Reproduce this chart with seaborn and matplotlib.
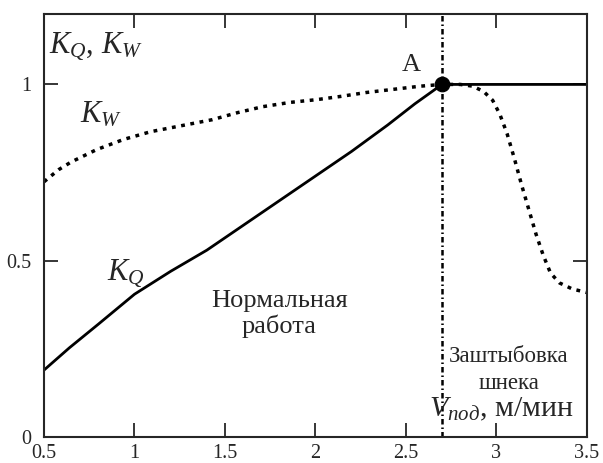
import matplotlib
matplotlib.use('Agg')
import matplotlib.pyplot as plt
import seaborn as sns
import pandas as pd

# K_Q: near-linear growth up to point A, then flat
kq_x = [0.5, 0.64, 0.8, 1.0, 1.2, 1.4, 1.6, 1.8, 2.0, 2.2, 2.4, 2.55, 2.70, 3.0, 3.5]
kq_y = [0.19, 0.253, 0.32, 0.405, 0.47, 0.53, 0.60, 0.67, 0.74, 0.81, 0.885, 0.945, 1.0, 1.0, 1.0]

# K_W: slow rise, then drop after auger plugging
kw_x = [0.5, 0.58, 0.65, 0.79, 0.94, 1.09, 1.23, 1.43, 1.57, 1.71, 1.86, 2.01, 2.14, 2.28,
        2.43, 2.58, 2.70, 2.80, 2.87, 2.93, 2.98, 3.02, 3.06, 3.10, 3.14, 3.18, 3.22, 3.26,
        3.30, 3.35, 3.42, 3.50]
kw_y = [0.724, 0.758, 0.78, 0.815, 0.844, 0.866, 0.88, 0.90, 0.92, 0.937, 0.949, 0.957,
        0.966, 0.977, 0.986, 0.995, 1.0, 1.0, 0.995, 0.98, 0.955, 0.915, 0.86, 0.79, 0.715,
        0.645, 0.575, 0.515, 0.465, 0.437, 0.42, 0.41]

point_a = (2.7, 1.0)
x_ticks = [0.5, 1, 1.5, 2, 2.5, 3, 3.5]
x_labels = ['0.5', '1', '1.5', '2', '2.5', '3', '3.5']
y_ticks = [0, 0.5, 1]
y_labels = ['0', '0.5', '1']

sns.set_style("ticks")
plt.rcParams['font.family'] = ['Liberation Serif', 'DejaVu Serif']
plt.rcParams['mathtext.fontset'] = 'custom'
plt.rcParams['mathtext.rm'] = 'Liberation Serif'
plt.rcParams['mathtext.it'] = 'Liberation Serif:italic'

fig = plt.figure(figsize=(6.03, 4.63), dpi=100)
ax = fig.add_axes([0.073, 0.056, 0.900, 0.914])

df_q = pd.DataFrame({'x': kq_x, 'y': kq_y})
df_w = pd.DataFrame({'x': kw_x, 'y': kw_y})

sns.lineplot(data=df_q, x='x', y='y', ax=ax, color='black', lw=2.0, sort=False)
sns.lineplot(data=df_w, x='x', y='y', ax=ax, color='black', lw=2.5, sort=False,
             linestyle=(0, (1.1, 1.6)))
ax.axvline(point_a[0], color='black', lw=1.8, linestyle=(0, (2.2, 1.2, 0.6, 1.2)))
sns.scatterplot(x=[point_a[0]], y=[point_a[1]], ax=ax, color='black', s=110, zorder=5,
                edgecolor='black')

ax.set_xlim(0.5, 3.5)
ax.set_ylim(0, 1.2)
ax.set_xticks(x_ticks)
ax.set_xticklabels(x_labels)
ax.set_yticks(y_ticks)
ax.set_yticklabels(y_labels)
ax.tick_params(direction='in', length=10, width=1.3, labelsize=14.5,
               top=True, right=True)
ax.tick_params(axis='y', pad=9)
ax.tick_params(axis='x', pad=5)
for s in ax.spines.values():
    s.set_linewidth(1.5)
ax.set_xlabel('')
ax.set_ylabel('')

ax.text(0.53, 1.11, r'$K_Q$, $K_W$', fontsize=22, va='center', ha='left')
ax.text(0.70, 0.915, r'$K_W$', fontsize=22, va='center', ha='left')
ax.text(0.85, 0.465, r'$K_Q$', fontsize=22, va='center', ha='left')
ax.text(2.53, 1.055, 'A', fontsize=19, va='center', ha='center')
ax.text(1.80, 0.35, 'Нормальная\nработа', fontsize=19, ha='center', va='center',
        linespacing=1.15)
ax.text(3.07, 0.19, 'Заштыбовка\nшнека', fontsize=16.5, ha='center', va='center',
        linespacing=1.35)
ax.text(2.63, 0.078, r'$V_{\mathit{под}}$, м/мин', fontsize=21.5, ha='left', va='center')

fig.savefig('out.png', dpi=100)
